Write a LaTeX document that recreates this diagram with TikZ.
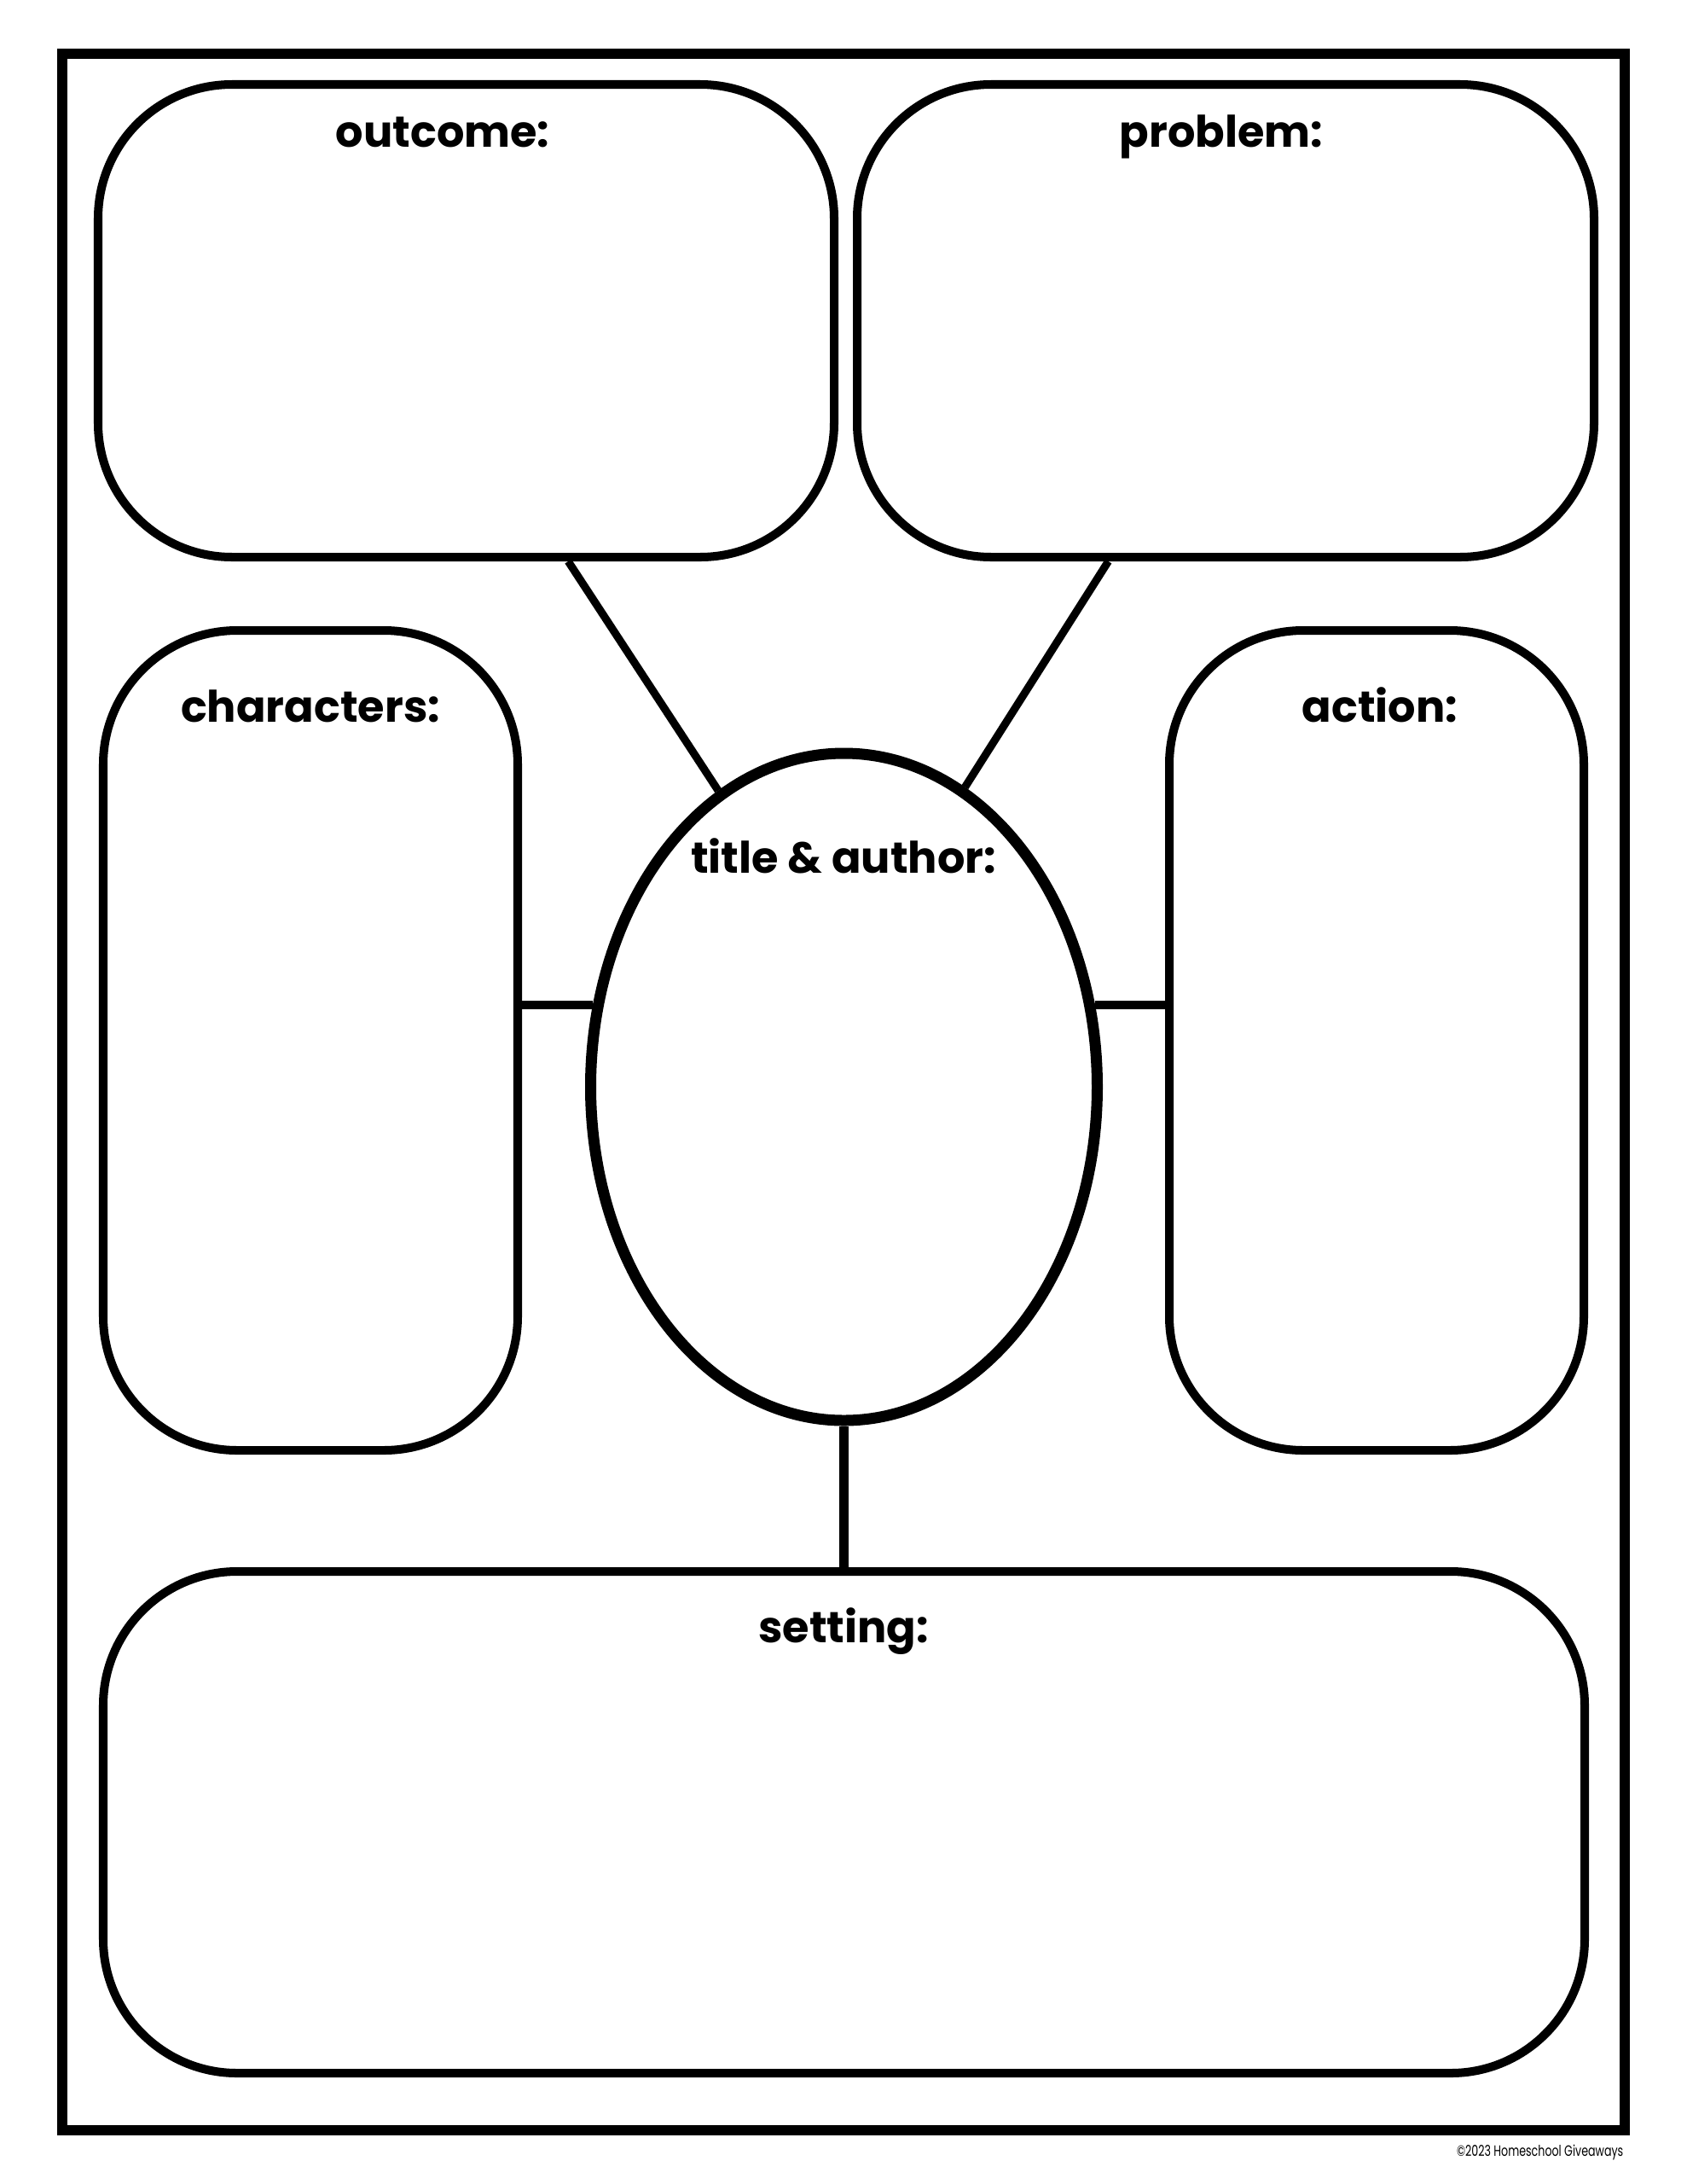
\documentclass[tikz,border=0pt]{standalone}
\usepackage{fontspec}
\setmainfont{Poppins}
\usetikzlibrary{shapes.geometric}

\tikzset{
  panel/.style={draw=black, line width=2.85pt, rounded corners=1.57cm, inner sep=0pt},
  lbl/.style={anchor=base, font=\fontsize{14.5}{17}\selectfont\bfseries},
  link/.style={draw=black, line width=2.6pt},
}

\begin{document}
\begin{tikzpicture}
  \useasboundingbox (0,0) rectangle (19.78,-25.6);
  % outer frame
  \node[draw=black, line width=3.4pt, inner sep=0pt, minimum width=18.32cm, minimum height=24.34cm] (frame) at (9.89,-12.80) {};

  % panels
  \node[panel, minimum width=8.63cm, minimum height=5.54cm] (outcome) at (5.465,-3.76) {};
  \node[panel, minimum width=8.64cm, minimum height=5.54cm] (problem) at (14.37,-3.76) {};
  \node[panel, minimum width=4.86cm, minimum height=9.61cm] (characters) at (3.64,-12.195) {};
  \node[panel, minimum width=4.86cm, minimum height=9.61cm] (action) at (16.14,-12.195) {};
  \node[panel, minimum width=17.37cm, minimum height=5.88cm] (setting) at (9.895,-21.36) {};
  \node[draw=black, ellipse, line width=3.7pt, inner sep=0pt, minimum width=5.94cm, minimum height=7.82cm] (title) at (9.895,-12.74) {};

  % labels
  \node[lbl] (outcomeLbl) at (5.19,-1.72) {outcome:};
  \node[lbl] (problemLbl) at (14.32,-1.72) {problem:};
  \node[lbl] (charactersLbl) at (3.64,-8.46) {characters:};
  \node[lbl] (actionLbl) at (16.18,-8.46) {action:};
  \node[lbl] (titleLbl) at (9.89,-10.23) {title \& author:};
  \node[lbl] (settingLbl) at (9.89,-19.25) {setting:};

  % connectors
  \draw[link] (outcome.-67) -- (title.113);
  \draw[link] (problem.-116) -- (title.68);
  \draw[link, line width=2.85pt] (title.162) -- (title.162 -| characters.east);
  \draw[link, line width=2.85pt] (title.18) -- (title.18 -| action.west);
  \draw[link, line width=3.4pt] (title.south) -- (setting.north);

  \node[anchor=base east, inner sep=0pt, font=\fontsize{5}{6}\selectfont] (credit) at (19.04,-25.27) {\scalebox{0.72}[1]{©2023 Homeschool Giveaways}};
\end{tikzpicture}
\end{document}
